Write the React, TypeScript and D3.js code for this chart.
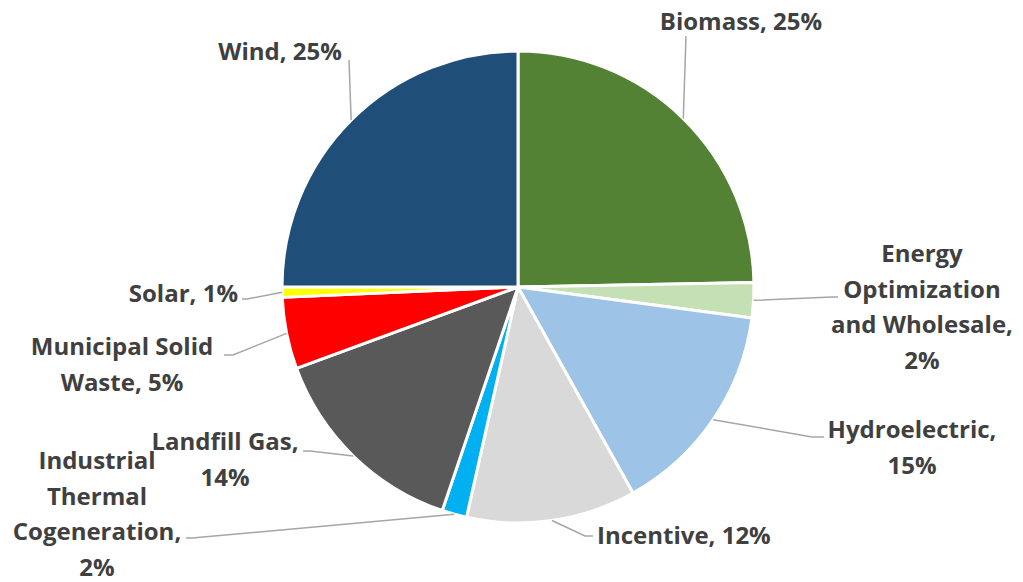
import * as React from 'react';
import * as d3 from 'd3';

const categories = [
  'Biomass', 'Energy Optimization and Wholesale', 'Hydroelectric', 'Incentive',
  'Industrial Thermal Cogeneration', 'Landfill Gas', 'Municipal Solid Waste', 'Solar', 'Wind',
];
const shares = [24.7, 2.4, 14.8, 11.6, 1.7, 14.2, 4.9, 0.7, 25.0];
const percentLabels = ['25%', '2%', '15%', '12%', '2%', '14%', '5%', '1%', '25%'];
const colors = ['#548235', '#C5E0B4', '#9DC3E6', '#D9D9D9', '#00B0F0', '#595959', '#FF0000', '#FFFF00', '#1F4E79'];

// label layout: text lines, anchor position, leader line points after the slice edge
const labelLines = [
  ['Biomass, 25%'],
  ['Energy', 'Optimization', 'and Wholesale,', '2%'],
  ['Hydroelectric,', '15%'],
  ['Incentive, 12%'],
  ['Industrial', 'Thermal', 'Cogeneration,', '2%'],
  ['Landfill Gas,', '14%'],
  ['Municipal Solid', 'Waste, 5%'],
  ['Solar, 1%'],
  ['Wind, 25%'],
];
const labelPos: [number, number, string][] = [
  [741, 22, 'middle'], [922, 254, 'middle'], [912, 430, 'middle'], [597, 536, 'start'],
  [97, 461, 'middle'], [225, 442, 'middle'], [122, 347, 'middle'], [238, 294, 'end'], [280, 52, 'middle'],
];
const leaderPts: [number, number][][] = [
  [[686, 36]],
  [[832, 297], [838, 297]],
  [[812, 437], [824, 437]],
  [[585, 536], [593, 536]],
  [[192, 538], [186, 538]],
  [[310, 451], [303, 451]],
  [[233, 355], [224, 355]],
  [[247, 299], [242, 299]],
  [[349, 60]],
];

const W = 1023, H = 582;
const cx = 518, cy = 287, R = 236;
const lineH = 35.5;

export default function App() {
  const data = categories.map((c, i) => ({ name: c, value: shares[i], i }));
  const pie = d3.pie<typeof data[0]>().sort(null).value(d => d.value);
  const arcs = pie(data);
  const arc = d3.arc<d3.PieArcDatum<typeof data[0]>>().innerRadius(0).outerRadius(R);
  const line = d3.line();

  return (
    <svg width={W} height={H} style={{ position: 'fixed', left: 0, top: 0, background: '#fff' }}
      fontFamily="'Open Sans', sans-serif" fontWeight="bold" fontSize={24}>
      <g transform={`translate(${cx},${cy})`}>
        {arcs.map(a => (
          <path key={a.data.name} d={arc(a)!} fill={colors[a.data.i]} stroke="#fff" strokeWidth={3} strokeLinejoin="round" />
        ))}
      </g>
      {arcs.map(a => {
        const mid = (a.startAngle + a.endAngle) / 2;
        const start: [number, number] = [cx + R * Math.sin(mid), cy - R * Math.cos(mid)];
        const pts = [start, ...leaderPts[a.data.i]];
        return <path key={'l' + a.data.name} d={line(pts)!} fill="none" stroke="#A6A6A6" strokeWidth={1.5} />;
      })}
      {labelLines.map((ls, i) => (
        <text key={'t' + i} x={labelPos[i][0]} y={labelPos[i][1]} textAnchor={labelPos[i][2] as any} fill="#404040">
          {ls.map((l, j) => (
            <tspan key={j} x={labelPos[i][0]} y={labelPos[i][1] + j * lineH} dy="0.35em">{l}</tspan>
          ))}
        </text>
      ))}
    </svg>
  );
}
